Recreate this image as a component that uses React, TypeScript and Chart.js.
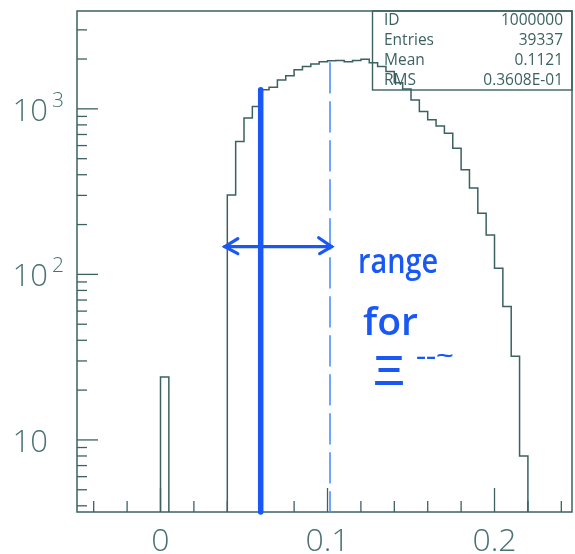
import React, { useEffect, useRef } from "react";
import { Chart, registerables } from "chart.js";

Chart.register(...registerables);

// ---- histogram data (bin width 0.005, first bin starts at 0) ----
const binWidth = 0.005;
const histStart = 0.0;
const counts = [
  24, 0, 0, 0, 0, 0, 0, 0,
  302, 634, 879, 1032, 1303, 1352, 1496, 1582,
  1720, 1802, 1863, 1923, 1950, 1959, 1923, 1960,
  1995, 1900, 1802, 1679, 1440, 1320, 1132, 963,
  859, 789, 712, 579, 428, 332, 234, 173,
  109, 64, 32, 8,
];

// ---- axes ----
const xMin = -0.05;
const xMax = 0.2464;
const yMin = 3.67;
const yMax = 3900;
const xTicks = [-0.04, -0.02, 0, 0.02, 0.04, 0.06, 0.08, 0.1, 0.12, 0.14, 0.16, 0.18, 0.2, 0.22, 0.24];
const xLabelTicks = [0, 0.1, 0.2];
const xLabels = ["0", "0.1", "0.2"];
const yMinorTicks = [4, 5, 6, 7, 8, 9, 20, 30, 40, 50, 60, 70, 80, 90, 200, 300, 400, 500, 600, 700, 800, 900, 2000, 3000];
const yDecades = [10, 100, 1000];
const yDecadeExps = ["", "2", "3"];

// ---- statistics box ----
const statNames = ["ID", "Entries", "Mean", "RMS"];
const statValues = ["1000000", "39337", "0.1121", "0.3608E-01"];

// ---- hand-written annotations ----
const rangeLow = 0.06;
const rangeHigh = 0.1015;
const arrowFrom = 0.0385;
const arrowTo = 0.1025;
const arrowLevel = 147;
const noteWords = ["range", "for", "Ξ", "--~"];

const INK = "#3b6161";
const TEXT = "#4a7272";
const BLUE = "#1a58f5";
const FLOOR = 0.1;

const countAt = (v: number) => counts[Math.floor((v - histStart) / binWidth + 1e-6)];

const histPoints: { x: number; y: number }[] = [{ x: xMin, y: FLOOR }];
counts.forEach((c, i) => histPoints.push({ x: histStart + i * binWidth, y: c > 0 ? c : FLOOR }));
histPoints.push({ x: histStart + counts.length * binWidth, y: FLOOR });
histPoints.push({ x: 0.25, y: FLOOR });

function scaledText(ctx: CanvasRenderingContext2D, text: string, x: number, y: number, width: number) {
  const m = ctx.measureText(text).width;
  ctx.save();
  ctx.translate(x, y);
  ctx.scale(width / m, 1);
  ctx.fillText(text, 0, 0);
  ctx.restore();
}

const paperPlugin = {
  id: "paper",
  beforeDraw(chart: any) {
    const ctx = chart.ctx;
    ctx.save();
    ctx.fillStyle = "#ffffff";
    ctx.fillRect(0, 0, chart.width, chart.height);
    ctx.restore();
  },
  afterDatasetsDraw(chart: any) {
    const ctx: CanvasRenderingContext2D = chart.ctx;
    const a = chart.chartArea;
    const x = chart.scales.x;
    const y = chart.scales.y;
    ctx.save();
    ctx.strokeStyle = INK;
    ctx.lineWidth = 1.5;
    ctx.strokeRect(a.left, a.top, a.right - a.left, a.bottom - a.top);

    const seg = (x1: number, y1: number, x2: number, y2: number) => {
      ctx.beginPath();
      ctx.moveTo(x1, y1);
      ctx.lineTo(x2, y2);
      ctx.stroke();
    };
    // x ticks (inward)
    ctx.lineWidth = 1.3;
    for (const v of xTicks) {
      const px = x.getPixelForValue(v);
      const len = xLabelTicks.includes(v) ? 24 : 11;
      seg(px, a.bottom, px, a.bottom - len);
    }
    // y ticks (inward)
    for (const v of yMinorTicks) {
      const py = y.getPixelForValue(v);
      if (py < a.top || py > a.bottom) continue;
      seg(a.left, py, a.left + 10, py);
    }
    for (const v of yDecades) {
      const py = y.getPixelForValue(v);
      seg(a.left, py, a.left + 21, py);
    }

    // tick labels
    ctx.fillStyle = TEXT;
    ctx.textBaseline = "alphabetic";
    ctx.font = "300 32px 'Open Sans'";
    ctx.textAlign = "center";
    xLabelTicks.forEach((v, i) => {
      ctx.fillText(xLabels[i], x.getPixelForValue(v), 551);
    });
    yDecades.forEach((v, i) => {
      const py = y.getPixelForValue(v);
      ctx.font = "300 31px 'Open Sans'";
      ctx.textAlign = "right";
      ctx.fillText("10", 48, py + 12);
      if (yDecadeExps[i]) {
        ctx.font = "300 21px 'Open Sans'";
        ctx.textAlign = "left";
        ctx.fillText(yDecadeExps[i], 52, py - 2);
      }
    });

    // statistics box
    const boxL = 372.5;
    const boxB = 90;
    ctx.strokeStyle = INK;
    ctx.lineWidth = 1.4;
    ctx.strokeRect(boxL, a.top, a.right - boxL, boxB - a.top);
    ctx.fillStyle = INK;
    ctx.font = "15.5px 'Open Sans'";
    statNames.forEach((n, i) => {
      const by = 25 + i * 20;
      ctx.textAlign = "left";
      ctx.fillText(n, 384, by);
      ctx.textAlign = "right";
      ctx.fillText(statValues[i], 563, by);
    });

    // hand-drawn annotations
    ctx.lineCap = "round";
    // solid thick line
    ctx.strokeStyle = BLUE;
    ctx.lineWidth = 5.5;
    const xl = x.getPixelForValue(rangeLow);
    seg(xl, a.bottom, xl, y.getPixelForValue(countAt(rangeLow)));
    // dashed line
    ctx.strokeStyle = "rgba(80,145,255,0.9)";
    ctx.lineWidth = 1.8;
    ctx.setLineDash([30, 9]);
    const xh = x.getPixelForValue(rangeHigh);
    seg(xh, y.getPixelForValue(countAt(rangeHigh)) + 2, xh, a.bottom);
    ctx.setLineDash([]);
    // arrow
    ctx.strokeStyle = BLUE;
    ctx.lineWidth = 3.2;
    const ax1 = x.getPixelForValue(arrowFrom);
    const ax2 = x.getPixelForValue(arrowTo);
    const ay = y.getPixelForValue(arrowLevel);
    seg(ax1, ay, ax2, ay);
    ctx.beginPath();
    ctx.moveTo(ax1 + 13, ay - 8);
    ctx.lineTo(ax1, ay);
    ctx.lineTo(ax1 + 13, ay + 7);
    ctx.stroke();
    ctx.beginPath();
    ctx.moveTo(ax2 - 13, ay - 9);
    ctx.lineTo(ax2, ay);
    ctx.lineTo(ax2 - 12, ay + 7);
    ctx.stroke();

    // hand-written words
    ctx.fillStyle = BLUE;
    ctx.textAlign = "left";
    ctx.font = "600 35px 'Open Sans'";
    scaledText(ctx, noteWords[0], 358, 273, 80);
    ctx.font = "600 38px 'Open Sans'";
    scaledText(ctx, noteWords[1], 363, 335, 55);
    ctx.font = "600 40px 'Open Sans'";
    scaledText(ctx, noteWords[2], 373, 385, 32);
    ctx.font = "600 24px 'Open Sans'";
    scaledText(ctx, noteWords[3], 416, 364, 38);

    ctx.restore();
  },
};

export default function App() {
  const ref = useRef<HTMLCanvasElement>(null);
  useEffect(() => {
    const canvas = ref.current;
    if (!canvas) return;
    const chart = new Chart(canvas, {
      type: "line",
      data: {
        datasets: [
          {
            data: histPoints,
            stepped: "before",
            borderColor: INK,
            borderWidth: 1.5,
            pointRadius: 0,
            fill: false,
          } as any,
        ],
      },
      options: {
        animation: false,
        responsive: false,
        devicePixelRatio: 1,
        events: [],
        layout: { padding: { left: 77, right: 3, top: 11, bottom: 42 } },
        plugins: { legend: { display: false }, tooltip: { enabled: false } },
        scales: {
          x: { type: "linear", min: xMin, max: xMax, display: false },
          y: { type: "logarithmic", min: yMin, max: yMax, display: false },
        },
      },
      plugins: [paperPlugin],
    });
    return () => chart.destroy();
  }, []);
  return (
    <div style={{ position: "absolute", left: 0, top: 0, width: 575, height: 554, background: "#fff" }}>
      <canvas ref={ref} width={575} height={554} style={{ display: "block", width: 575, height: 554 }} />
    </div>
  );
}
